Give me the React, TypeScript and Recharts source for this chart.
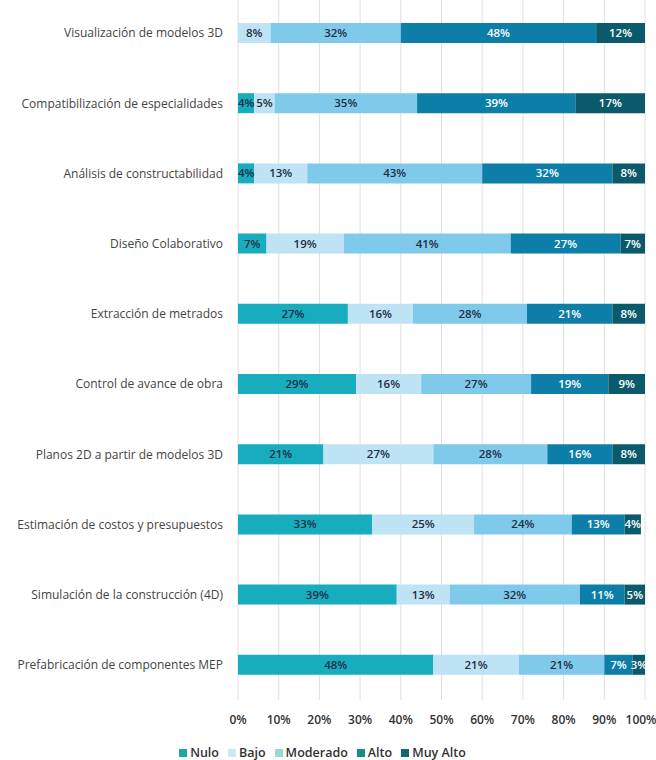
import { BarChart, Bar, XAxis, YAxis, CartesianGrid, Legend, LabelList } from 'recharts';

// Categories, top to bottom
const categories = [
  'Visualización de modelos 3D',
  'Compatibilización de especialidades',
  'Análisis de constructabilidad',
  'Diseño Colaborativo',
  'Extracción de metrados',
  'Control de avance de obra',
  'Planos 2D a partir de modelos 3D',
  'Estimación de costos y presupuestos',
  'Simulación de la construcción (4D)',
  'Prefabricación de componentes MEP',
];

// Percentages per level
const nulo = [0, 4, 4, 7, 27, 29, 21, 33, 39, 48];
const bajo = [8, 5, 13, 19, 16, 16, 27, 25, 13, 21];
const moderado = [32, 35, 43, 41, 28, 27, 28, 24, 32, 21];
const alto = [48, 39, 32, 27, 21, 19, 16, 13, 11, 7];
const muyAlto = [12, 17, 8, 7, 8, 9, 8, 4, 5, 3];

const xTicks = [0, 10, 20, 30, 40, 50, 60, 70, 80, 90, 100];

const FONT = '"Open Sans", sans-serif';

// bar colour, label colour, legend swatch colour
const series = [
  { key: 'nulo', name: 'Nulo', fill: '#17adbf', text: '#1f2d45', legend: '#1aa99b' },
  { key: 'bajo', name: 'Bajo', fill: '#bee3f4', text: '#1f2d45', legend: '#cde8f1' },
  { key: 'moderado', name: 'Moderado', fill: '#7fcaeb', text: '#1f2d45', legend: '#99d8d6' },
  { key: 'alto', name: 'Alto', fill: '#0d7ea8', text: '#ffffff', legend: '#168f80' },
  { key: 'muyAlto', name: 'Muy Alto', fill: '#0b5a6b', text: '#ffffff', legend: '#11696d' },
];

const data = categories.map((name, i) => ({
  name,
  nulo: nulo[i],
  bajo: bajo[i],
  moderado: moderado[i],
  alto: alto[i],
  muyAlto: muyAlto[i],
}));

// x tick: pull the last label in a bit so it stays inside the page
function XTick(props: any) {
  const { x, y, payload } = props;
  const shift = payload.value === 100 ? -4 : 0;
  return (
    <text
      x={x + shift}
      y={y + 16}
      textAnchor="middle"
      fill="#333"
      fontSize={12}
      fontWeight={600}
      fontFamily={FONT}
    >
      {`${payload.value}%`}
    </text>
  );
}

function LegendContent() {
  return (
    <div
      style={{
        display: 'flex',
        justifyContent: 'center',
        gap: 9,
        fontFamily: FONT,
        fontSize: 12.5,
        fontWeight: 600,
        color: '#333',
        paddingTop: 12,
      }}
    >
      {series.map((s) => (
        <span key={s.key} style={{ display: 'flex', alignItems: 'center' }}>
          <span style={{ width: 8, height: 8, background: s.legend, marginRight: 3, display: 'inline-block' }} />
          {s.name}
        </span>
      ))}
    </div>
  );
}

export default function App() {
  return (
    <div style={{ position: 'absolute', left: 0, top: 0, background: '#fff' }}>
      <BarChart
        width={656}
        height={760}
        data={data}
        layout="vertical"
        margin={{ top: -2, right: 11, left: 0, bottom: 0 }}
        barSize={20}
      >
        <CartesianGrid horizontal={false} stroke="#e2dede" />
        <XAxis
          type="number"
          domain={[0, 100]}
          ticks={xTicks}
          allowDataOverflow
          axisLine={false}
          tickLine={false}
          height={32}
          tick={<XTick />}
          interval={0}
        />
        <YAxis
          type="category"
          dataKey="name"
          width={238}
          axisLine={false}
          tickLine={false}
          tickMargin={9}
          tick={{ fill: '#444', fontSize: 12, fontFamily: FONT }}
          interval={0}
        />
        <Legend content={<LegendContent />} height={28} verticalAlign="bottom" />
        {series.map((s) => (
          <Bar key={s.key} dataKey={s.key} name={s.name} stackId="a" fill={s.fill} isAnimationActive={false}>
            <LabelList
              dataKey={s.key}
              position="center"
              fill={s.text}
              fontSize={11.5}
              fontWeight={600}
              fontFamily={FONT}
              formatter={(v: any) => (v ? `${v}%` : '')}
            />
          </Bar>
        ))}
      </BarChart>
    </div>
  );
}
